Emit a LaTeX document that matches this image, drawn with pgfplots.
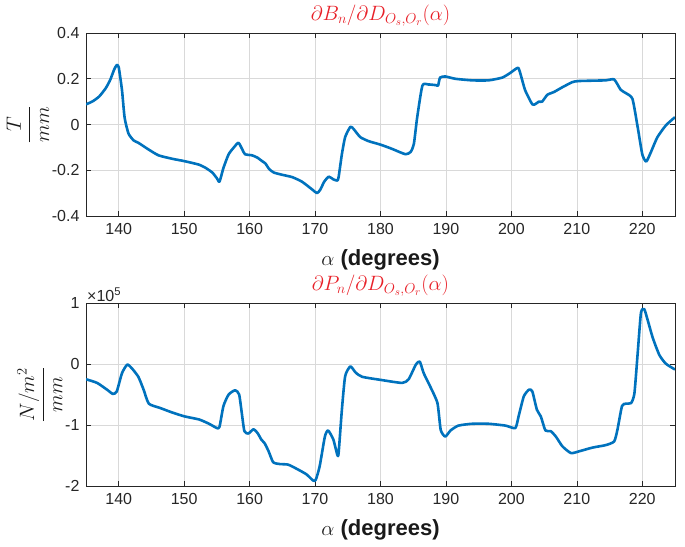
\documentclass[border=0pt]{standalone}
\usepackage{pgfplots}
\pgfplotsset{compat=1.18}
\usepackage{fontspec}
\setmainfont{Liberation Sans}
\definecolor{mblue}{RGB}{0,114,189}
\definecolor{mred}{RGB}{232,32,40}
\definecolor{mgray}{RGB}{38,38,38}
\pgfplotsset{
  mystyle/.style={
    scale only axis, width=589pt, height=183pt,
    xmin=135, xmax=225, xtick={140,150,...,220},
    grid=major, major grid style={black!15, line width=0.6pt},
    axis line style={mgray, line width=0.6pt},
    tick style={mgray, line width=0.6pt},
    tick align=inside, major tick length=5pt,
    /pgf/number format/assume math mode=true,
    tick label style={font=\fontsize{16}{18}\selectfont, text=mgray},
    xticklabel style={yshift=-4pt},
    yticklabel style={xshift=-3pt},
    xlabel={$\alpha$ \textbf{(degrees)}},
    xlabel style={font=\fontsize{22}{24}\selectfont, text=black!90, yshift=-8pt},
    title style={font=\fontsize{21}{23}\selectfont, text=mred, at={(0.5,1)}, anchor=south, yshift=-3pt},
    ylabel style={font=\fontsize{22}{24}\selectfont, text=black!90, yshift=-4pt},
  },
  myline/.style={mblue, line width=2.6pt, line join=round, no markers, smooth, tension=0.35},
}
\begin{document}
\begin{tikzpicture}
\path[use as bounding box] (0,0) rectangle (685pt,546pt);
\begin{axis}[mystyle, at={(86pt,330pt)}, anchor=south west,
  ymin=-0.4, ymax=0.4, ytick={-0.4,-0.2,0,0.2,0.4},
  yticklabels={-0.4,-0.2,0,0.2,0.4},
  title={$\partial B_n/\partial D_{O_s,O_r}(\alpha)$},
  ylabel={$\displaystyle\frac{T}{mm}$}]
\addplot[myline] coordinates {
(135,0.088) (136,0.101) (137,0.122) (138,0.158) (138.7,0.195) (139.3,0.24) (139.7,0.26) (140,0.25)
(140.5,0.15) (140.9,0.03) (141.5,-0.04) (142.3,-0.07) (143,-0.08) (144.6,-0.11) (146.1,-0.135)
(148.2,-0.15) (150,-0.16) (152.2,-0.175) (153.3,-0.19) (154.3,-0.21) (155,-0.235) (155.4,-0.25)
(156,-0.19) (156.8,-0.13) (157.6,-0.1) (158.3,-0.08) (158.9,-0.11) (159.3,-0.13) (160.4,-0.135)
(161.2,-0.145) (161.9,-0.16) (162.4,-0.17) (163,-0.195) (163.7,-0.21) (165,-0.22) (166.5,-0.23)
(168,-0.25) (169.6,-0.285) (170.3,-0.3) (170.8,-0.285) (171.4,-0.25) (172.1,-0.228) (172.8,-0.24)
(173.4,-0.245) (173.6,-0.23) (174.1,-0.13) (174.6,-0.055) (175.4,-0.01) (175.9,-0.02) (176.9,-0.055)
(178.2,-0.073) (180,-0.088) (181.8,-0.107) (183.8,-0.13) (184.6,-0.12) (185.1,-0.085) (185.6,0.03)
(186.4,0.17) (187.3,0.175) (188.5,0.172) (188.8,0.17) (189.1,0.205) (189.9,0.21) (191.4,0.2)
(194,0.193) (196.5,0.193) (198.6,0.205) (199.8,0.225) (201,0.248) (201.4,0.22) (202.1,0.15)
(203.2,0.088) (203.7,0.09) (204.2,0.1) (204.7,0.1) (205.5,0.13) (206.5,0.142) (207.8,0.163)
(209.3,0.185) (210.3,0.19) (214.4,0.193) (215.7,0.197) (216.7,0.152) (217.5,0.137) (218.5,0.112)
(219.3,-0.012) (220,-0.13) (220.6,-0.162) (221.3,-0.122) (222.3,-0.056) (223.6,-0.004) (225,0.032)
};
\end{axis}
\begin{axis}[mystyle, at={(86pt,60pt)}, anchor=south west, name=bot,
  ymin=-2, ymax=1, ytick={-2,-1,0,1},
  title={$\partial P_n/\partial D_{O_s,O_r}(\alpha)$},
  ylabel={$\displaystyle\frac{N/m^2}{mm}$}]
\addplot[myline] coordinates {
(135,-0.25) (136.7,-0.31) (138.2,-0.42) (139.1,-0.49) (139.7,-0.45) (140.5,-0.15) (141.3,-0.01)
(142,-0.07) (143,-0.21) (143.8,-0.42) (144.6,-0.65) (146.3,-0.72) (148.3,-0.8) (150.1,-0.86)
(152.3,-0.91) (153.8,-0.98) (155,-1.05) (155.4,-1.03) (156,-0.69) (156.8,-0.5) (157.8,-0.43)
(158.4,-0.5) (158.8,-0.8) (159.2,-1.1) (159.8,-1.14) (160.6,-1.07) (161.2,-1.13) (161.8,-1.24)
(162.3,-1.3) (162.9,-1.43) (163.6,-1.61) (164.6,-1.64) (165.9,-1.65) (167.4,-1.73) (168.7,-1.81)
(169.7,-1.91) (170.1,-1.9) (170.7,-1.68) (171.5,-1.19) (172,-1.09) (172.8,-1.24) (173.4,-1.49)
(173.6,-1.46) (174.1,-0.75) (174.6,-0.2) (175.4,-0.04) (176.2,-0.14) (177.2,-0.21) (180,-0.26)
(183.3,-0.31) (184.3,-0.25) (185.4,-0.01) (186,0.04) (186.6,-0.15) (187.6,-0.37) (188.7,-0.64)
(189.2,-1.08) (189.9,-1.19) (190.7,-1.09) (191.9,-1.01) (194,-0.98) (196.5,-0.98) (199.1,-1.01)
(200.6,-1.05) (201.1,-0.86) (201.9,-0.53) (202.7,-0.42) (203.2,-0.45) (203.9,-0.75) (204.5,-0.86)
(205.2,-1.09) (206,-1.1) (206.8,-1.19) (207.8,-1.35) (209.1,-1.46) (210.4,-1.43) (212.4,-1.37)
(214.4,-1.33) (215.7,-1.27) (216.2,-1.08) (216.9,-0.69) (217.5,-0.65) (218.3,-0.64) (218.8,-0.48)
(219.3,0.18) (219.8,0.84) (220.3,0.9) (220.8,0.73) (221.6,0.43) (222.6,0.15) (223.6,0.005) (225,-0.09)
};
\end{axis}
\node[anchor=south west, font=\fontsize{16}{18}\selectfont, text=mgray, inner sep=1pt]
  at (bot.north west) {×10\textsuperscript{5}};
\end{tikzpicture}
\end{document}
